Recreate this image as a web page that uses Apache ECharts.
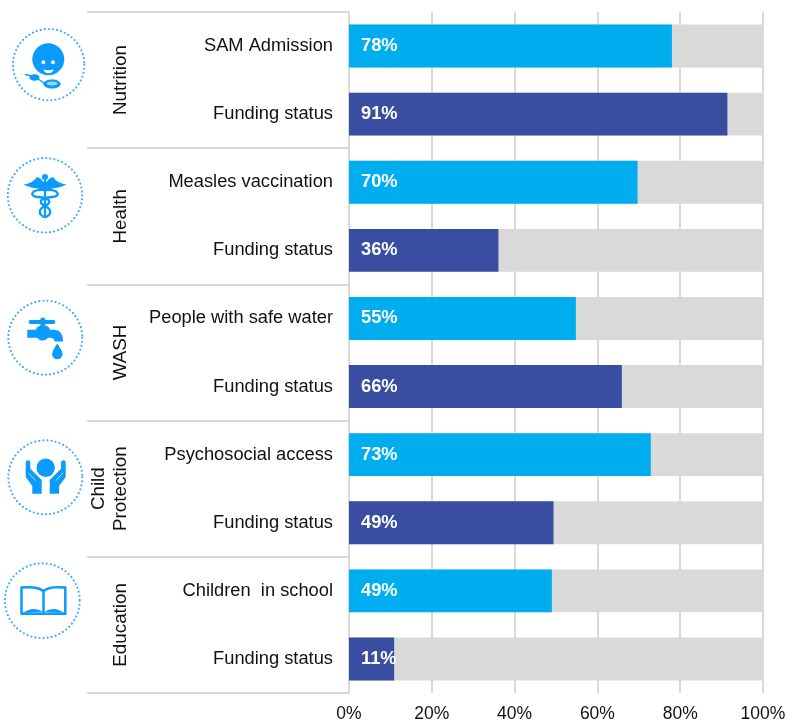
<!DOCTYPE html>
<html>
<head>
<meta charset="utf-8">
<style>
  html, body { margin: 0; padding: 0; background: #fff; }
  #chart { width: 788px; height: 722px; }
</style>
</head>
<body>
<div id="chart"></div>
<script src="https://cdn.jsdelivr.net/npm/echarts@6/dist/echarts.min.js"></script>
<script>
const groupNames = ['Nutrition', 'Health', 'WASH', 'Child\nProtection', 'Education'];
const rowNames = [
  'SAM Admission', 'Funding status',
  'Measles vaccination', 'Funding status',
  'People with safe water', 'Funding status',
  'Psychosocial access', 'Funding status',
  'Children  in school', 'Funding status'
];
// bar lengths, the printed labels are not always the rounded length
const rowValues = [78, 91.4, 69.7, 36.1, 54.8, 65.9, 72.9, 49.4, 49, 10.9];
const rowLabels = ['78%', '91%', '70%', '36%', '55%', '66%', '73%', '49%', '49%', '11%'];

const GREY = '#d9d9d9';
const ICON = '#0a9bff';
const TEXT = '#111';
const FONT = '"Liberation Sans", Arial, sans-serif';

// the graphic component has no plain path type, so each icon path gets its own shape class
let pathCount = 0;
function pathType(d) {
  const name = 'iconPath' + pathCount++;
  echarts.graphic.registerShape(name, echarts.graphic.extendPath(d, {}));
  return name;
}
function ring(cx, cy, r) {
  return {
    type: 'circle',
    shape: { cx: cx, cy: cy, r: r },
    style: { fill: 'none', stroke: '#3dadfb', lineWidth: 2.2, lineDash: [0, 4.1], lineCap: 'round' }
  };
}
function fillPath(d, color) {
  return { type: pathType(d), style: { fill: color || ICON } };
}
function linePath(d, width, color) {
  return {
    type: pathType(d),
    style: { fill: 'none', stroke: color || ICON, lineWidth: width, lineCap: 'round', lineJoin: 'round' }
  };
}
function dot(cx, cy, r, color) {
  return { type: 'circle', shape: { cx: cx, cy: cy, r: r }, style: { fill: color || ICON } };
}

const icons = [
  // nutrition
  ring(48.7, 64.7, 35.7),
  dot(48.3, 59.2, 16),
  dot(43.4, 62.3, 2, '#fff'),
  dot(53, 62.3, 2, '#fff'),
  fillPath('M43.5 69.5 Q48.3 70.8 53.5 69.5 Q52.5 73.3 48.3 73.3 Q44.5 73.3 43.5 69.5Z', '#fff'),
  linePath('M25.5 74.5 L33 76.5 M38 79 L44 83', 1.4),
  { type: 'ellipse', shape: { cx: 34.5, cy: 77.5, rx: 5, ry: 3.2 }, style: { fill: ICON } },
  { type: 'ellipse', shape: { cx: 52, cy: 84, rx: 8.6, ry: 4.6 }, style: { fill: ICON } },
  { type: 'ellipse', shape: { cx: 52, cy: 83.6, rx: 5.5, ry: 2 }, style: { fill: '#9fd6ff' } },
  // health
  ring(45, 195.3, 37.2),
  dot(45, 177, 3),
  fillPath('M23.5 184.5 Q32 184 37 177 Q41 178 43.5 182 H46.5 Q49 178 53 177 Q58 184 66.5 184.5 Q60 188 52 188.5 L45 191 L38 188.5 Q30 188 23.5 184.5Z'),
  linePath('M45 178 V217', 2.2),
  linePath('M45 190 C30 189 29 196.5 38 197 C50 198 52 202 46 205.5 C38 209 38 214 44 217', 2.3),
  linePath('M45 190 C60 189 61 196.5 52 197 C40 198 38 202 44 205.5 C52 209 52 214 46 217', 2.3),
  // wash
  ring(45.3, 337.7, 37),
  linePath('M30.5 322 H53.5', 3.8),
  linePath('M42.8 320 V329', 5),
  fillPath('M27.3 329.7 H36 Q37 326 40 326 H46 Q49 326 50 329.7 H54 Q63 330 63 341.5 H54.5 Q54.5 337.7 50 337.7 H48 Q46 340.5 42.5 340.5 Q39 340.5 37.5 337.7 H27.3Z'),
  fillPath('M57.3 343.5 Q62.5 351 62.5 354 A5.2 5.2 0 0 1 52.1 354 Q52.1 351 57.3 343.5Z'),
  // child protection
  ring(45.3, 477.3, 37),
  dot(45.7, 467.7, 9.2),
  fillPath('M25.7 462.5 Q25.7 460.3 28 460.3 Q30.3 460.3 30.3 462.5 V468.7 L41.7 480 V493.7 H32.3 V486 L25.7 477Z'),
  fillPath('M65.7 462.5 Q65.7 460.3 63.4 460.3 Q61.1 460.3 61.1 462.5 V468.7 L49.7 480 V493.7 H59.1 V486 L65.7 477Z'),
  linePath('M28.5 473 L35.5 480.5', 0.9, '#bfe4ff'),
  linePath('M62.9 473 L55.9 480.5', 0.9, '#bfe4ff'),
  // education
  ring(42.3, 600.7, 37.4),
  linePath('M43.5 591 C38 586.5 30 587 21.5 587.5 V613.7 H65.3 V587.5 C57 587 49 586.5 43.5 591 V613.5', 2.5),
  fillPath('M23 613 Q33 605.5 43 612Z'),
  fillPath('M44 612 Q54 605.5 64 613Z')
];

const chart = echarts.init(document.getElementById('chart'), null, { renderer: 'canvas' });
chart.setOption({
  animation: false,
  backgroundColor: '#fff',
  textStyle: { fontFamily: FONT },
  // outerBoundsMode none: otherwise v6 squeezes the grid to keep the bottom labels in the canvas
  grid: { left: 349, right: 25, top: 12, bottom: 29, outerBoundsMode: 'none' },
  xAxis: {
    type: 'value',
    min: 0,
    max: 100,
    interval: 20,
    axisLine: { show: false },
    axisTick: { show: false },
    axisLabel: { formatter: '{value}%', color: TEXT, fontSize: 17.5, fontFamily: FONT, margin: 12 },
    splitLine: { show: true, lineStyle: { color: GREY, width: 2 } }
  },
  yAxis: [
    {
      type: 'category',
      inverse: true,
      position: 'left',
      data: rowNames,
      axisLine: { show: true, lineStyle: { color: GREY, width: 2 } },
      axisTick: { show: false },
      axisLabel: { interval: 0, color: TEXT, fontSize: 18.3, fontFamily: FONT, margin: 16 }
    },
    {
      // the group column: its long ticks are the separators between groups
      type: 'category',
      inverse: true,
      position: 'left',
      data: groupNames,
      axisLine: { show: false },
      axisTick: { show: true, length: 262, lineStyle: { color: GREY, width: 2 } },
      axisLabel: {
        interval: 0,
        rotate: 90,
        margin: 217,
        align: 'center',
        verticalAlign: 'bottom',
        color: TEXT,
        fontSize: 18.8,
        lineHeight: 22,
        fontFamily: FONT
      }
    }
  ],
  series: [
    {
      type: 'bar',
      yAxisIndex: 0,
      data: rowValues,
      barCategoryGap: '37%',
      showBackground: true,
      backgroundStyle: { color: GREY },
      itemStyle: {
        color: function (p) { return p.dataIndex % 2 === 0 ? '#00aeef' : '#3a4ea1'; }
      },
      label: {
        show: true,
        position: 'insideLeft',
        distance: 12,
        color: '#fff',
        fontSize: 18.3,
        fontWeight: 'bold',
        fontFamily: FONT,
        formatter: function (p) { return rowLabels[p.dataIndex]; }
      }
    }
  ],
  graphic: icons
});
</script>
</body>
</html>
